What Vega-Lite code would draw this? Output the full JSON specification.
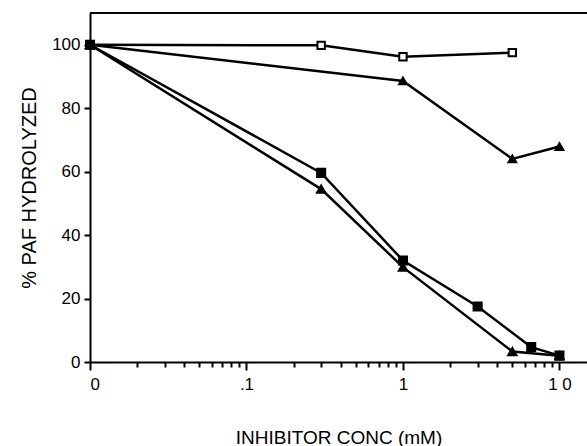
{
  "$schema": "https://vega.github.io/schema/vega-lite/v6.json",
  "autosize": {"type": "none"},
  "padding": {"left": 90, "top": 13, "right": 0, "bottom": 84},
  "width": 497,
  "height": 349,
  "background": "white",
  "config": {
    "view": {"stroke": null},
    "font": "Liberation Sans",
    "axis": {"domainColor": "black", "domainWidth": 2, "tickColor": "black", "labelColor": "black", "titleColor": "black", "grid": false, "titleFontWeight": "normal", "labelFont": "Liberation Sans", "titleFont": "Liberation Sans"}
  },
  "data": {
    "values": [
      {"series": "A", "conc": 0.01, "pct": 100},
      {"series": "A", "conc": 0.3, "pct": 99.8},
      {"series": "A", "conc": 1, "pct": 96.2},
      {"series": "A", "conc": 5, "pct": 97.5},
      {"series": "B", "conc": 0.01, "pct": 100},
      {"series": "B", "conc": 1, "pct": 88.6},
      {"series": "B", "conc": 5, "pct": 64.0},
      {"series": "B", "conc": 10, "pct": 67.9},
      {"series": "C", "conc": 0.01, "pct": 100},
      {"series": "C", "conc": 0.3, "pct": 59.6},
      {"series": "C", "conc": 1, "pct": 32.0},
      {"series": "C", "conc": 3, "pct": 17.5},
      {"series": "C", "conc": 6.6, "pct": 4.7},
      {"series": "C", "conc": 10, "pct": 2.0},
      {"series": "D", "conc": 0.01, "pct": 100},
      {"series": "D", "conc": 0.3, "pct": 54.5},
      {"series": "D", "conc": 1, "pct": 29.9},
      {"series": "D", "conc": 5, "pct": 3.3},
      {"series": "D", "conc": 10, "pct": 2.0}
    ]
  },
  "encoding": {
    "x": {
      "field": "conc", "type": "quantitative",
      "scale": {"type": "log", "domain": [0.01, 15], "nice": false},
      "axis": {
        "title": "INHIBITOR CONC (mM)",
        "titleFontSize": 19,
        "titlePadding": 36,
        "labelFontSize": 17,
        "labelPadding": 6,
        "values": [0.01, 0.02, 0.03, 0.04, 0.05, 0.06, 0.07, 0.08, 0.09, 0.1, 0.2, 0.3, 0.4, 0.5, 0.6, 0.7, 0.8, 0.9, 1, 2, 3, 4, 5, 6, 7, 8, 9, 10],
        "labelExpr": "datum.value == 0.01 ? '0' : datum.value == 0.1 ? '.1' : datum.value == 1 ? '1' : datum.value == 10 ? '1 0' : ''",
        "labelOverlap": false,
        "tickWidth": 2,
        "tickSize": {"condition": {"test": "datum.value == 0.01 || datum.value == 0.1 || datum.value == 1 || datum.value == 10", "value": 8}, "value": 5}
      }
    },
    "y": {
      "field": "pct", "type": "quantitative",
      "scale": {"domain": [0, 110], "nice": false},
      "axis": {
        "title": "% PAF HYDROLYZED",
        "titleFontSize": 20,
        "titlePadding": 12,
        "labelFontSize": 17,
        "labelPadding": 4,
        "values": [0, 20, 40, 60, 80, 100],
        "tickSize": 6,
        "tickWidth": 2
      }
    }
  },
  "layer": [
    {
      "mark": {"type": "rule", "color": "black", "strokeWidth": 2},
      "encoding": {"x": null, "y": {"datum": 110}}
    },
    {
      "mark": {"type": "line", "color": "black", "strokeWidth": 2.5},
      "encoding": {"detail": {"field": "series", "type": "nominal"}}
    },
    {
      "mark": {"type": "point", "stroke": "black", "strokeWidth": 2, "opacity": 1},
      "encoding": {
        "shape": {"field": "series", "type": "nominal", "scale": {"domain": ["A", "B", "C", "D"], "range": ["square", "triangle-up", "square", "triangle-up"]}, "legend": null},
        "fill": {"field": "series", "type": "nominal", "scale": {"domain": ["A", "B", "C", "D"], "range": ["white", "black", "black", "black"]}, "legend": null},
        "size": {"field": "series", "type": "nominal", "scale": {"domain": ["A", "B", "C", "D"], "range": [55, 70, 55, 35]}, "legend": null}
      }
    }
  ]
}
